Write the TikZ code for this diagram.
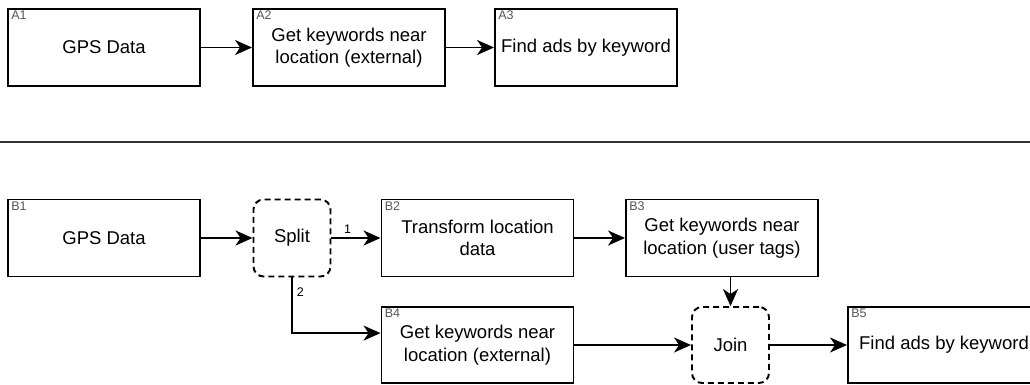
\documentclass[tikz,border=0pt]{standalone}
\usepackage{fontspec}
\setmainfont{Liberation Sans}
\usepackage{xcolor}
\usetikzlibrary{positioning,calc,arrows.meta}

\definecolor{tagcolor}{HTML}{555555}

\begin{document}
\begin{tikzpicture}[x=1pt, y=-1pt,
		stage/.style={draw, line width=1.9pt, align=center, inner sep=0,
			minimum width=192pt, minimum height=77pt,
			font=\fontsize{18.5}{22.5}\selectfont},
		gate/.style={stage, dashed, dash pattern=on 6pt off 4pt, rounded corners=10pt,
			minimum width=77pt},
		tag/.style={anchor=north west, inner sep=0, xshift=4pt, yshift=-3pt,
			text=tagcolor, font=\fontsize{12.5}{14}\selectfont},
		flow/.style={line width=1.9pt, -{Stealth[length=17pt, width=15pt, inset=5pt]}},
		num/.style={font=\fontsize{12.5}{14}\selectfont, inner sep=1pt}]
	\useasboundingbox (0,0) rectangle (1030,385);

	% top row
	\node[stage, label={[tag]north west:A1}] (a1) at (104,47.5) {GPS Data};
	\node[stage, label={[tag]north west:A2}] (a2) at (349,47.5) {Get keywords near\\location (external)};
	\node[stage, minimum width=182pt, label={[tag]north west:A3}] (a3) at (586,47.5) {Find ads by keyword};
	\draw[flow] (a1) -- (a2);
	\draw[flow] (a2) -- (a3);

	% separator
	\draw[line width=1.9pt, black!80] (0,142) -- (1030,142);

	% bottom row
	\node[stage, label={[tag]north west:B1}] (b1) at (104,238) {GPS Data};
	\node[gate] (split) at (292,238) {Split};
	\node[stage, label={[tag]north west:B2}] (b2) at (477.5,238) {Transform location\\data};
	\node[stage, label={[tag]north west:B3}] (b3) at (722,238) {Get keywords near\\location (user tags)};
	\node[stage, minimum height=76pt, label={[tag]north west:B4}] (b4) at (477.5,345) {Get keywords near\\location (external)};
	\node[gate, minimum height=76pt] (join) at (730.5,345) {Join};
	\node[stage, minimum height=76pt, label={[tag]north west:B5}] (b5) at (944,345) {Find ads by keyword};

	\draw[flow] (b1) -- (split);
	\draw[flow] (split) -- node[num, pos=0.33, above=3pt] {1} (b2);
	\draw[flow] (split.south) |- node[num, pos=0.13, right=3pt] {2} (b4.173.5);
	\draw[flow] (b2) -- (b3);
	\draw[flow] (join.north |- b3.south) -- (join.north);
	\draw[flow] (b4) -- (join);
	\draw[flow] (join) -- (b5);
\end{tikzpicture}
\end{document}
